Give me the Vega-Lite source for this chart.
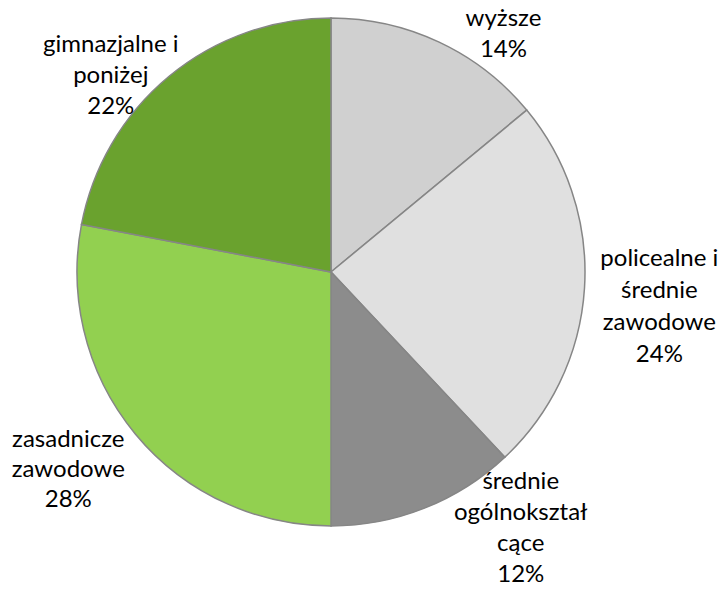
{
  "$schema": "https://vega.github.io/schema/vega-lite/v6.json",
  "width": 662,
  "height": 544,
  "autosize": {"type": "none"},
  "padding": {"left": 0, "top": 0, "right": 63, "bottom": 45},
  "background": "white",
  "view": {"stroke": null},
  "data": {
    "values": [
      {"cat": "wyższe", "label": "wyższe\n14%", "value": 14, "ord": 1},
      {"cat": "policealne i średnie zawodowe", "label": "policealne i\nśrednie\nzawodowe\n24%", "value": 24, "ord": 2},
      {"cat": "średnie ogólnokształcące", "label": "średnie\nogólnokształ\ncące\n12%", "value": 12, "ord": 3},
      {"cat": "zasadnicze zawodowe", "label": "zasadnicze\nzawodowe\n28%", "value": 28, "ord": 4},
      {"cat": "gimnazjalne i poniżej", "label": "gimnazjalne i\nponiżej\n22%", "value": 22, "ord": 5}
    ]
  },
  "encoding": {
    "theta": {"field": "value", "type": "quantitative", "stack": true},
    "order": {"field": "ord", "type": "quantitative"}
  },
  "layer": [
    {
      "mark": {"type": "arc", "stroke": "#868686", "strokeWidth": 1.5, "radius": 254},
      "encoding": {
        "color": {
          "field": "cat", "type": "nominal", "legend": null,
          "scale": {
            "domain": ["wyższe", "policealne i średnie zawodowe", "średnie ogólnokształcące", "zasadnicze zawodowe", "gimnazjalne i poniżej"],
            "range": ["#d0d0d0", "#e0e0e0", "#8c8c8c", "#92d050", "#6aa22e"]
          }
        }
      }
    },
    {
      "mark": {"type": "text", "radius": 290, "dx": 49, "dy": 9, "font": "Lato", "fontSize": 24, "lineHeight": 31, "lineBreak": "\n", "align": "center", "baseline": "middle", "color": "#000000"},
      "encoding": {"text": {"condition": {"test": "datum.ord === 1", "field": "label"}, "value": ""}}
    },
    {
      "mark": {"type": "text", "radius": 325, "dx": 4, "dy": -33, "font": "Lato", "fontSize": 24, "lineHeight": 32, "lineBreak": "\n", "align": "center", "baseline": "middle", "color": "#000000"},
      "encoding": {"text": {"condition": {"test": "datum.ord === 2", "field": "label"}, "value": ""}}
    },
    {
      "mark": {"type": "text", "radius": 290, "dx": 83, "dy": -60, "font": "Lato", "fontSize": 24, "lineHeight": 31, "lineBreak": "\n", "align": "center", "baseline": "middle", "color": "#000000"},
      "encoding": {"text": {"condition": {"test": "datum.ord === 3", "field": "label"}, "value": ""}}
    },
    {
      "mark": {"type": "text", "radius": 328, "dx": -10, "dy": -41, "font": "Lato", "fontSize": 24, "lineHeight": 30, "lineBreak": "\n", "align": "center", "baseline": "middle", "color": "#000000"},
      "encoding": {"text": {"condition": {"test": "datum.ord === 4", "field": "label"}, "value": ""}}
    },
    {
      "mark": {"type": "text", "radius": 300, "dx": -29, "dy": 4, "font": "Lato", "fontSize": 24, "lineHeight": 31, "lineBreak": "\n", "align": "center", "baseline": "middle", "color": "#000000"},
      "encoding": {"text": {"condition": {"test": "datum.ord === 5", "field": "label"}, "value": ""}}
    }
  ]
}
